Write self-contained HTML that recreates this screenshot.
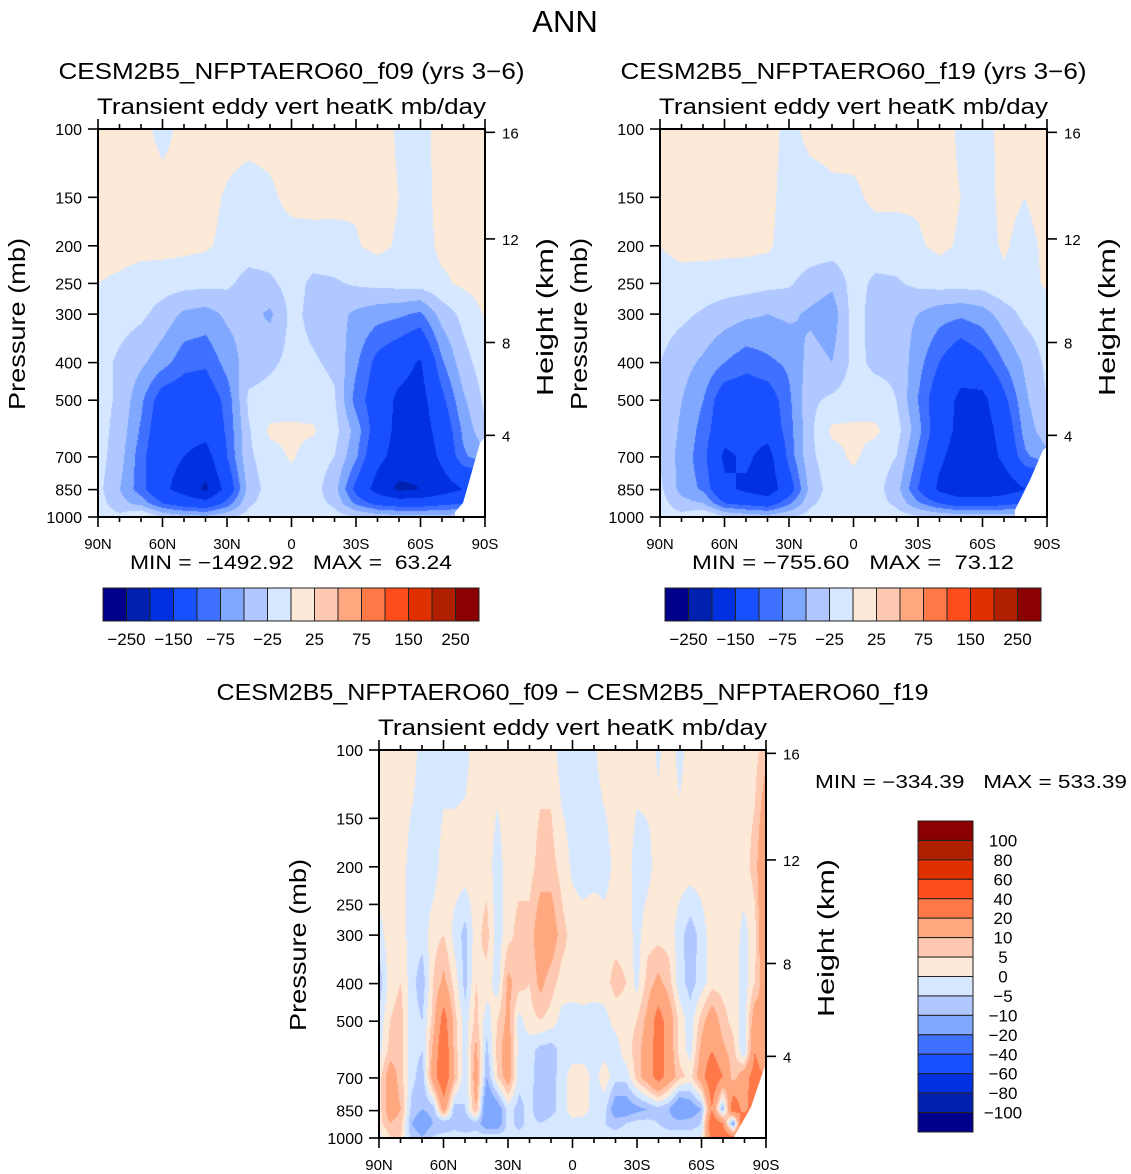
<!DOCTYPE html>
<html><head><meta charset="utf-8">
<style>
html,body{margin:0;padding:0;background:#fff;}
#wrap{position:relative;width:1131px;height:1174px;overflow:hidden;font-family:"Liberation Sans",sans-serif;}
canvas{position:absolute;}
svg{position:absolute;left:0;top:0;}
text{font-family:"Liberation Sans",sans-serif;fill:#000;}
.pre{white-space:pre;}
</style></head>
<body>
<div id="wrap">
<canvas id="c1" style="left:98px;top:129px" width="387" height="388"></canvas>
<canvas id="c2" style="left:660px;top:129px" width="387" height="388"></canvas>
<canvas id="c3" style="left:379px;top:750px" width="387" height="387"></canvas>
<svg id="ov" width="1131" height="1174"></svg>
</div>
<script>
// ---- data ----
const presRows = [100,150,200,250,300,400,500,600,700,850,925,1000];
const latCols19 = [90,80,70,60,50,40,30,20,10,0,-10,-20,-30,-40,-50,-60,-70,-80,-90];
const f09 = [
[10,10,8,-8,8,10,10,10,10,10,10,10,10,10,-3,-10,10,10,10],
[10,10,10,10,10,8,-3,-12,-5,8,10,8,3,10,0,-10,8,10,10],
[10,10,8,8,6,3,-6,-12,-12,-12,-12,-10,-2,6,-3,-10,5,5,10],
[0,-5,-12,-14,-16,-18,-20,-35,-30,-15,-30,-28,-22,-18,-16,-14,-4,4,10],
[-12,-15,-20,-35,-55,-60,-45,-40,-55,-18,-32,-40,-55,-65,-70,-80,-40,-18,2],
[-15,-30,-45,-65,-90,-95,-65,-38,-30,-18,-22,-30,-70,-110,-130,-155,-80,-35,-12],
[-15,-30,-70,-120,-125,-125,-90,-20,-15,-12,-12,-22,-85,-120,-160,-170,-110,-55,-20],
[-15,-35,-80,-130,-130,-135,-95,-28,5,5,3,-15,-60,-120,-165,-175,-130,-70,-30],
[-15,-40,-90,-135,-150,-170,-100,-30,-10,3,-12,-25,-70,-135,-170,-185,-140,-80,-60],
[-18,-50,-90,-140,-170,-210,-130,-40,-14,-12,-15,-40,-110,-170,-210,-200,-175,-150,-150],
[-15,-40,-60,-100,-120,-130,-90,-30,-12,-12,-14,-30,-80,-110,-120,-120,-110,-100,-100],
[-12,-20,5,-30,-40,-45,-30,-15,-12,-12,-12,-14,-25,-35,-40,-40,-40,-40,-40]
];
const f19 = [
[10,10,10,10,10,10,-8,8,10,10,10,10,10,10,-4,-10,8,10,10],
[10,10,10,10,10,8,-12,-12,-6,-5,5,5,3,8,0,-10,6,0,10],
[0,8,8,6,6,4,-12,-12,-12,-12,-12,-12,-3,5,-3,-10,3,-8,5],
[-10,-10,-12,-12,-14,-18,-22,-35,-45,-15,-30,-28,-20,-15,-15,-14,-5,-8,3],
[-15,-20,-28,-38,-45,-50,-45,-55,-65,-14,-35,-40,-50,-65,-70,-62,-38,-18,-10],
[-25,-40,-55,-75,-90,-80,-70,-40,-50,-18,-30,-30,-65,-100,-130,-110,-75,-45,-20],
[-30,-50,-75,-125,-125,-120,-80,-30,-20,-12,-14,-25,-75,-125,-160,-165,-110,-55,-25],
[-30,-55,-85,-130,-130,-130,-85,-30,5,5,5,-14,-65,-125,-165,-175,-130,-65,-35],
[-30,-60,-90,-160,-140,-170,-90,-30,-10,5,-12,-25,-80,-140,-175,-180,-140,-80,-60],
[-20,-60,-80,-140,-160,-180,-120,-40,-14,-12,-15,-40,-100,-160,-190,-190,-180,-150,-150],
[-15,-40,-50,-100,-110,-120,-80,-30,-12,-12,-14,-30,-70,-100,-120,-120,-110,-100,-100],
[-12,-18,3,-25,-35,-40,-28,-14,-12,-12,-12,-14,-22,-30,-35,-35,-35,-35,-35]
];
const diffRows = [100,200,300,400,500,600,700,850,925,1000];
const diff = [
[3,3,3,3,-3,-3,-3,-3,-2,3,3,3,3,3,3,3,3,-3,-3,-3,-1,3,3,3,3,3,-1,3,-2,3,3,3,3,3,3,3,8],
[3,3,3,-3,-3,-3,3,3,3,3,3,-3,3,3,3,7,7,3,-1,-3,-3,-3,2,3,-3,-2,3,3,3,3,3,3,3,3,3,7,20],
[-2,3,3,-3,-3,3,5,-2,-7,3,7,-3,3,7,7,15,15,7,3,3,5,3,3,3,-2,3,3,3,-3,-8,-3,3,3,3,-2,3,20],
[-8,3,5,-3,-8,5,12,3,-7,5,3,-3,12,7,5,12,7,3,3,3,3,3,7,5,-2,7,12,7,-3,-7,-3,3,3,3,-3,5,15],
[-3,5,7,-3,-5,7,25,7,-3,7,-3,5,12,-2,3,5,3,-2,-3,-2,-3,-2,2,3,5,12,25,15,3,-3,7,15,7,3,-3,15,10],
[-2,7,7,-3,-5,12,30,8,-3,12,-7,7,15,-2,-3,-7,-8,-3,-3,-3,-3,-2,-3,3,7,15,25,15,3,-2,12,20,12,7,-5,20,10],
[3,15,7,-3,-8,15,30,10,-5,15,-10,5,15,-3,-3,-8,-7,-3,3,3,-2,3,-3,-3,7,15,25,15,7,3,15,30,20,7,15,25,20],
[3,15,10,-7,-10,-8,15,-8,-5,10,-20,-15,-3,-7,-3,-10,-7,-3,3,3,-3,-3,-15,-15,-12,-10,-7,-10,-20,-15,-10,20,-10,30,15,30,20],
[3,10,7,-10,-15,-10,-10,-7,-10,-7,-15,-15,-3,-7,-3,-5,-3,-3,-2,-3,-3,-5,-7,-5,-3,-3,-5,-7,-7,-7,-5,30,20,-15,40,20,20],
[-2,5,5,-7,-10,-5,-3,-3,-3,-3,-3,-3,-3,-3,-3,-2,-2,-3,-3,-3,-3,-3,-3,-3,-3,-3,-3,-3,-3,-3,-3,25,30,20,30,20,20]
];
const levelsTop = [-250,-200,-150,-100,-75,-50,-25,0,25,50,75,100,150,200,250];
const levelsDiff = [-100,-80,-60,-40,-20,-10,-5,0,5,10,20,40,60,80,100];
const topLabels = ["−250","−150","−75","−25","25","75","150","250"];
const diffLabels = ["100","80","60","40","20","10","5","0","−5","−10","−20","−40","−60","−80","−100"];
const latTickLabels = ["90N","60N","30N","0","30S","60S","90S"];
const presTicks = [100,150,200,250,300,400,500,700,850,1000];
const heightTicks = [4,8,12,16];
const heightPres = [616,355,192,102];
const colors = ["#00008b","#0020b0","#0030e0","#1850ff","#4070ff","#80a8ff","#b0c8ff","#d6e8ff","#fde9d8","#ffc8b0","#ffa880","#ff7848","#ff4c1c","#e03000","#b02000","#8b0000"];

function hex(c){return [parseInt(c.substr(1,2),16),parseInt(c.substr(3,2),16),parseInt(c.substr(5,2),16)];}
const rgb = colors.map(hex);

function render(id, rows, grid, levels){
  const cv=document.getElementById(id), ctx=cv.getContext('2d');
  const W=cv.width,H=cv.height, img=ctx.createImageData(W,H);
  const nc=grid[0].length, lr=rows.map(p=>Math.log10(p));
  for(let py=0;py<H;py++){
    const lp=2+py/(H-1);
    let r=0; while(r<lr.length-2 && lp>lr[r+1]) r++;
    let ty=(lp-lr[r])/(lr[r+1]-lr[r]); ty=Math.max(0,Math.min(1,ty));
    for(let px=0;px<W;px++){
      const fx=px/(W-1)*(nc-1); let c=Math.min(nc-2,Math.floor(fx)); const tx=fx-c;
      const v=(grid[r][c]*(1-tx)+grid[r][c+1]*tx)*(1-ty)+(grid[r+1][c]*(1-tx)+grid[r+1][c+1]*tx)*ty;
      let k=0; while(k<levels.length && v>=levels[k]) k++;
      const o=(py*W+px)*4, col=rgb[k];
      img.data[o]=col[0];img.data[o+1]=col[1];img.data[o+2]=col[2];img.data[o+3]=255;
    }
  }
  ctx.putImageData(img,0,0);
}
render('c1',presRows,f09,levelsTop);
render('c2',presRows,f19,levelsTop);
render('c3',diffRows,diff,levelsDiff);

const svg=document.getElementById('ov'), NS="http://www.w3.org/2000/svg";
function el(tag,attrs,parent){const e=document.createElementNS(NS,tag);for(const k in attrs)e.setAttribute(k,attrs[k]);(parent||svg).appendChild(e);return e;}
function txt(x,y,s,size,anchor,parent,extra){const t=el('text',Object.assign({x:x,y:y,'font-size':size,'text-anchor':anchor||'middle'},extra||{}),parent);t.textContent=s;return t;}

const title=txt(565,32,"ANN",31,'middle');



function panel(x0,y0,name,t1,t1len,minmax,mmx,mmy){
  const g=el('g',{});
  
  
  const W=387,H=388;
  const yOf=p=>y0+(Math.log10(p)-2)*H;
  const tt=txt(x0+W/2,y0-50,t1,23,'middle',g,{textLength:t1len,lengthAdjust:'spacingAndGlyphs'});
  
  
  const st=txt(x0+W/2,y0-15,"Transient eddy vert heatK mb/day",22,'middle',g,{textLength:389,lengthAdjust:'spacingAndGlyphs'});
  
  
  el('rect',{x:x0,y:y0,width:W,height:H,fill:'none',stroke:'#000','stroke-width':2},g);
  for(let i=0;i<=18;i++){
    const x=x0+i/18*W, L=(i%3==0)?10:5;
    el('line',{x1:x,y1:y0,x2:x,y2:y0-L,stroke:'#000','stroke-width':1.6},g);
    el('line',{x1:x,y1:y0+H,x2:x,y2:y0+H+L,stroke:'#000','stroke-width':1.6},g);
  }
  latTickLabels.forEach((s,i)=>{const t=txt(x0+i/6*W,y0+H+32,s,15,'middle',g);
    });
  presTicks.forEach(p=>{const y=yOf(p);
    el('line',{x1:x0-10,y1:y,x2:x0,y2:y,stroke:'#000','stroke-width':1.6},g);
    const t=txt(x0-16,y+6,String(p),16,'end',g);
    });
  heightTicks.forEach((h,i)=>{const y=yOf(heightPres[i]);
    el('line',{x1:x0+W,y1:y,x2:x0+W+10,y2:y,stroke:'#000','stroke-width':1.6},g);
    const t=txt(x0+W+17,y+6,String(h),15,'start',g);
    });
  const yl=txt(0,0,"Pressure (mb)",23,'middle',g,{transform:`translate(${x0-73},${y0+195}) rotate(-90)`,textLength:172,lengthAdjust:'spacingAndGlyphs'});
  
  const yr=txt(0,0,"Height (km)",23,'middle',g,{transform:`translate(${x0+W+68},${y0+188}) rotate(-90)`,textLength:158,lengthAdjust:'spacingAndGlyphs'});
  
  if(minmax){const m=txt(mmx,mmy,minmax,19,'middle',g,{'class':'pre',textLength:322,lengthAdjust:'spacingAndGlyphs'});
    }
  return g;
}
[[ "485,437 485,517 455,517 455,512 463,503 480,443" ],["1047,447 1047,517 1015,517 1015,510 1030,480 1043,450"],["766,1063 766,1137 734,1137 751,1107"]].forEach(p=>{
  const m=el('polygon',{points:p[0],fill:'#fff'});
  
  
});
panel(98,129,'panel-f09',"CESM2B5_NFPTAERO60_f09 (yrs 3−6)",466,"MIN = −1492.92   MAX =  63.24",291,569);
panel(660,129,'panel-f19',"CESM2B5_NFPTAERO60_f19 (yrs 3−6)",466,"MIN = −755.60   MAX =  73.12",853,569);
panel(379,750,'panel-diff',"CESM2B5_NFPTAERO60_f09 − CESM2B5_NFPTAERO60_f19",712,null);
const dm=txt(971,788,"MIN = −334.39   MAX = 533.39",18,'middle',svg,{'class':'pre',textLength:312,lengthAdjust:'spacingAndGlyphs'});



function hbar(x0,name){
  const g=el('g',{});
  
  
  const w=376/16;
  colors.forEach((c,i)=>{const r=el('rect',{x:x0+i*w,y:588,width:w,height:33,fill:c,stroke:'#222','stroke-width':1},g);
    });
  topLabels.forEach((s,i)=>{const t=txt(x0+(2*i+1)*w,645,s,17,'middle',g);
    });
}
hbar(103,'colorbar-f09');
hbar(665,'colorbar-f19');
(function(){
  const g=el('g',{});
  
  
  const h=311/16;
  colors.slice().reverse().forEach((c,i)=>{const r=el('rect',{x:918,y:821+i*h,width:55,height:h,fill:c,stroke:'#222','stroke-width':1},g);
    });
  diffLabels.forEach((s,i)=>{const t=txt(1003,821+(i+1)*h+6,s,17,'middle',g);
    });
})();
</script>
</body></html>
